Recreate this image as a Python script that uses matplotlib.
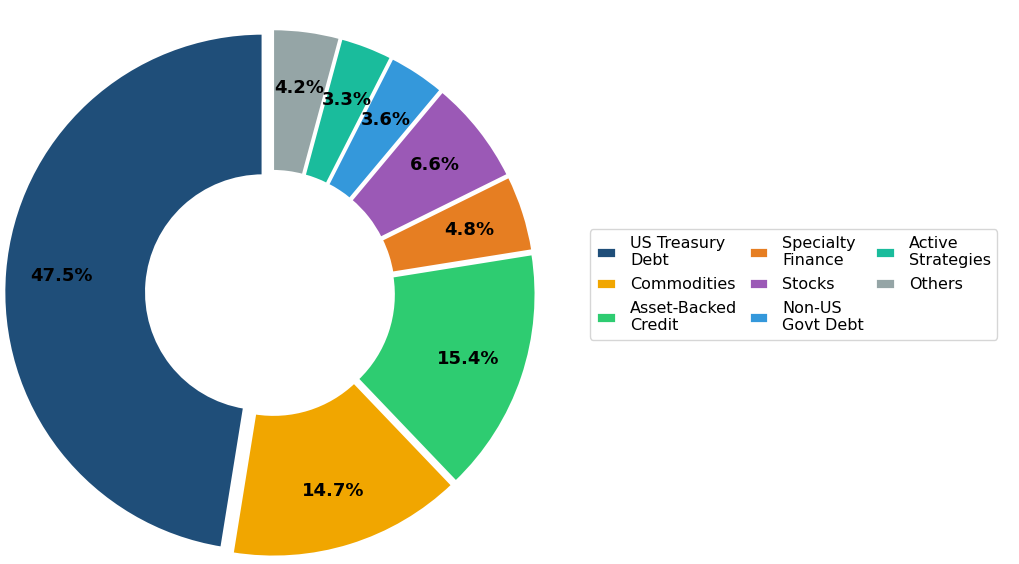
import numpy as np
import matplotlib
matplotlib.use("Agg")
import matplotlib.pyplot as plt

# allocation shares (%)
labels = ['US Treasury\nDebt', 'Commodities', 'Asset-Backed\nCredit',
          'Specialty\nFinance', 'Stocks', 'Non-US\nGovt Debt',
          'Active\nStrategies', 'Others']
shares = [47.5, 14.7, 15.4, 4.8, 6.6, 3.6, 3.3, 4.2]
colors = ['#1f4e79', '#f1a600', '#2ecc71', '#e67e22',
          '#9b59b6', '#3498db', '#1abc9c', '#95a5a6']
explode = [0.035, 0.02, 0.02, 0.02, 0.02, 0.02, 0.02, 0.02]

W, H = 1019, 564
fig = plt.figure(figsize=(W / 100, H / 100), dpi=100)
ax = fig.add_axes([0, 0, 1, 1])

wedges, texts, autotexts = ax.pie(
    shares, colors=colors, explode=explode, startangle=90,
    counterclock=True, autopct='%1.1f%%', pctdistance=0.78,
    wedgeprops=dict(width=0.55, edgecolor='white', linewidth=2),
    textprops=dict(fontsize=13, fontweight='bold', color='black'))

# place the pie: centre at (272, 293) px, radius 259 px
cx, cy, r = 272, 293, 259
ax.set_xlim(-cx / r, (W - cx) / r)
ax.set_ylim(-(H - cy) / r, cy / r)
ax.set_aspect('equal')
ax.axis('off')

fig.legend(wedges, labels, ncol=3, fontsize=11.5, loc='center left',
           bbox_to_anchor=((590 - 8) / W, 1 - 284.5 / H),
           handlelength=1.2, handletextpad=0.9, columnspacing=0.72,
           labelspacing=0.55)

fig.savefig('out.png', dpi=100)
